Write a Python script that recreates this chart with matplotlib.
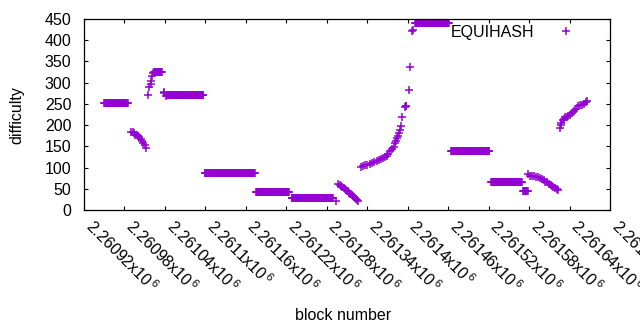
import matplotlib
matplotlib.use('Agg')
import matplotlib.pyplot as plt
import numpy as np

plt.rcParams['font.family'] = 'Liberation Sans'
plt.rcParams['mathtext.default'] = 'regular'

# stretches where the difficulty stayed put: first block, last block, value
run_first = [2260950, 2261024, 2261043, 2261099, 2261175, 2261228, 2261411, 2261464, 2261524, 2261571]
run_last = [2260985, 2261035, 2261097, 2261173, 2261224, 2261289, 2261461, 2261521, 2261569, 2261578]
run_value = [251, 325, 271, 87, 43, 28, 440, 138, 67, 44]

# sloped stretches, read point by point
slope_blocks = [
    2260990, 2260992, 2260994, 2260996, 2260998, 2261000, 2261002, 2261004, 2261006, 2261008, 2261010, 2261012,
    2261015, 2261017, 2261019, 2261020, 2261021, 2261023,
    2261038, 2261039, 2261041,
    2261294,
    2261297, 2261299, 2261301, 2261303, 2261305, 2261307, 2261309, 2261311, 2261313, 2261315, 2261317, 2261319,
    2261321, 2261323, 2261325, 2261327,
    2261331, 2261334, 2261337, 2261340, 2261344, 2261347, 2261350, 2261354, 2261357, 2261360, 2261363, 2261366,
    2261369, 2261371, 2261374, 2261376, 2261379, 2261381, 2261383, 2261384, 2261386, 2261387, 2261388, 2261390,
    2261392, 2261396, 2261397, 2261398, 2261402, 2261404, 2261407, 2261408,
    2261579, 2261581, 2261584, 2261587, 2261590, 2261593, 2261596, 2261599, 2261602, 2261604, 2261606, 2261609,
    2261612, 2261614, 2261616, 2261619, 2261621, 2261623,
    2261626, 2261627, 2261628, 2261630, 2261632, 2261634, 2261636, 2261638, 2261641, 2261644, 2261647, 2261650,
    2261653, 2261656, 2261659, 2261662, 2261664, 2261666,
]
slope_values = [
    184, 183, 181, 177, 176, 174, 171, 167, 163, 158, 153, 147,
    270, 290, 296, 304, 316, 323,
    275, 277, 268,
    21,
    62, 59, 57, 55, 52, 49, 47, 44, 41, 38, 35, 32,
    30, 27, 24, 21,
    102, 104, 105, 106, 108, 110, 112, 115, 117, 119, 122, 124,
    128, 133, 140, 144, 149, 157, 163, 169, 175, 181, 189, 198,
    218, 242, 244, 246, 282, 336, 421, 424,
    84, 81, 80, 79, 78, 77, 75, 72, 70, 67, 65, 62,
    59, 56, 54, 51, 49, 46,
    194, 200, 206, 211, 215, 219, 220, 222, 224, 228, 233, 238,
    244, 247, 248, 250, 254, 257,
]

tick_blocks = [2260920, 2260980, 2261040, 2261100, 2261160, 2261220, 2261280,
               2261340, 2261400, 2261460, 2261520, 2261580, 2261640, 2261700]
tick_text = ['2.26092', '2.26098', '2.26104', '2.2611', '2.26116', '2.26122', '2.26128',
             '2.26134', '2.2614', '2.26146', '2.26152', '2.26158', '2.26164', '2.2617']

blocks = list(slope_blocks)
values = list(slope_values)
for first, last, v in zip(run_first, run_last, run_value):
    for b in range(first, last + 1):
        blocks.append(b)
        values.append(v)

fs = 11.5
fig = plt.figure(figsize=(6.4, 3.3), dpi=100)
ax = fig.add_axes([84 / 640, 1 - 210 / 330, 526 / 640, 191 / 330])

ax.plot(blocks, values, linestyle='none', marker='+', color='#9400d3',
        markersize=5.8, markeredgewidth=1.1, label='EQUIHASH')

ax.set_xlim(2260920, 2261700)
ax.set_ylim(0, 450)
ax.set_yticks(np.arange(0, 451, 50))
ax.set_xticks(tick_blocks)
ax.set_xticklabels([t + r'x10$^{\,6}$' for t in tick_text], rotation=-45,
                   ha='left', va='baseline', rotation_mode='anchor')

ax.tick_params(direction='in', top=True, right=True, length=3, width=0.8,
               labelsize=fs, colors='black')
ax.tick_params(axis='y', pad=9)
ax.tick_params(axis='x', pad=13)
for s in ax.spines.values():
    s.set_linewidth(0.9)

fig.text(17 / 640, 1 - 115 / 330, 'difficulty', rotation=90, ha='center', va='center', fontsize=fs)
fig.text(343 / 640, 1 - 315 / 330, 'block number', ha='center', va='center', fontsize=fs)

ax.legend(loc='center right', bbox_to_anchor=((587 - 84) / 526, (210 - 32) / 191),
          frameon=False, markerfirst=False, numpoints=1, fontsize=fs,
          handlelength=2.6, handletextpad=0.7, borderpad=0, borderaxespad=0)

fig.savefig('out.png', dpi=100)
